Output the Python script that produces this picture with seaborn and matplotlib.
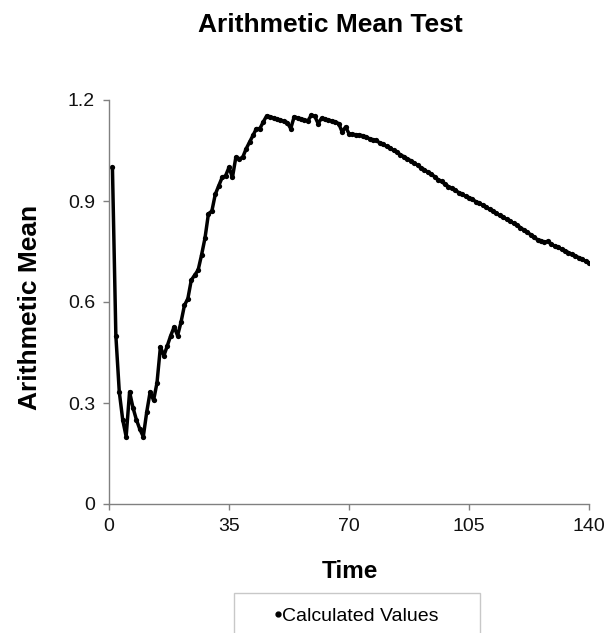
import numpy as np
import pandas as pd
import matplotlib
matplotlib.use("Agg")
import matplotlib.pyplot as plt
from matplotlib.patches import Rectangle
from matplotlib.lines import Line2D
import seaborn as sns

time = list(range(1, 141))
mean_values = [
    1.00, 0.50, 0.333, 0.25, 0.20, 0.333, 0.286, 0.25, 0.222, 0.20,
    0.273, 0.333, 0.308, 0.36, 0.467, 0.44, 0.47, 0.50, 0.526, 0.50,
    0.54, 0.59, 0.61, 0.665, 0.68, 0.695, 0.74, 0.79, 0.862, 0.87,
    0.92, 0.945, 0.97, 0.975, 1.00, 0.97, 1.03, 1.025, 1.03, 1.055,
    1.075, 1.095, 1.115, 1.115, 1.135, 1.153, 1.15, 1.147, 1.143, 1.14,
    1.137, 1.133, 1.115, 1.15, 1.147, 1.144, 1.141, 1.138, 1.155, 1.152,
    1.13, 1.146, 1.143, 1.14, 1.138, 1.135, 1.13, 1.105, 1.12, 1.10,
    1.098, 1.097, 1.096, 1.094, 1.09, 1.085, 1.082, 1.08, 1.072, 1.068,
    1.062, 1.058, 1.05, 1.045, 1.037, 1.032, 1.025, 1.02, 1.012, 1.007,
    0.998, 0.993, 0.985, 0.98, 0.972, 0.963, 0.958, 0.95, 0.943, 0.938,
    0.932, 0.925, 0.92, 0.914, 0.91, 0.905, 0.898, 0.893, 0.888, 0.882,
    0.875, 0.87, 0.863, 0.857, 0.851, 0.846, 0.84, 0.834, 0.828, 0.821,
    0.814, 0.807, 0.80, 0.792, 0.785, 0.782, 0.778, 0.78, 0.772, 0.766,
    0.762, 0.757, 0.752, 0.747, 0.742, 0.737, 0.732, 0.727, 0.721, 0.716,
]
x_ticks = [0, 35, 70, 105, 140]
y_ticks = [0, 0.3, 0.6, 0.9, 1.2]
y_tick_labels = ["0", "0.3", "0.6", "0.9", "1.2"]
series_name = "Calculated Values"

df = pd.DataFrame({"Time": time, "Arithmetic Mean": mean_values})

sns.set_style("white")
plt.rcParams["font.family"] = ["Liberation Sans", "DejaVu Sans"]
plt.rcParams["text.color"] = "black"

fig = plt.figure(figsize=(6.16, 6.33), dpi=100)
ax = fig.add_axes([109/616, 1 - 504/633, 480/616, 404/633])

sns.lineplot(data=df, x="Time", y="Arithmetic Mean", ax=ax, color="black",
             linewidth=2.5, marker="o", markersize=3.8, markeredgewidth=0,
             markerfacecolor="black")

ax.set_xlim(0, 140)
ax.set_ylim(0, 1.2)
ax.set_xticks(x_ticks)
ax.set_yticks(y_ticks)
ax.set_yticklabels(y_tick_labels)
for s in ["top", "right"]:
    ax.spines[s].set_visible(False)
for s in ["left", "bottom"]:
    ax.spines[s].set_color("#808080")
    ax.spines[s].set_linewidth(1.0)
ax.tick_params(axis="both", direction="out", length=4, width=1, color="#808080",
               labelsize=14, labelcolor="#111111")
ax.tick_params(axis="y", pad=6)
ax.tick_params(axis="x", pad=6)
ax.tick_params(left=True, bottom=True)

ax.set_xlabel("")
ax.set_ylabel("")
fig.text(350/616, 1 - 572/633, "Time", ha="center", va="center",
         fontsize=17.5, fontweight="bold", color="black")
fig.text(30/616, 1 - 307/633, "Arithmetic Mean", ha="center", va="center",
         rotation=90, fontsize=19, fontweight="bold", color="black")
fig.text(330/616, 1 - 25/633, "Arithmetic Mean Test", ha="center", va="center",
         fontsize=19, fontweight="bold", color="black")

# legend box
fig.patches.append(Rectangle((234/616, 0 - 0.01), 246/616, (633 - 593)/633 + 0.01,
                             transform=fig.transFigure, facecolor="white",
                             edgecolor="#c8c8c8", linewidth=1.0))
handle = Line2D([], [], color="black", marker="o", linestyle="none", markersize=3.5)
leg = fig.legend([handle], [series_name], loc="center", bbox_to_anchor=(357/616, 1 - 616/633),
                 frameon=False, fontsize=14, handlelength=0.3, handletextpad=0.05,
                 borderpad=0)
for t in leg.get_texts():
    t.set_color("black")

fig.savefig("out.png", dpi=100)
